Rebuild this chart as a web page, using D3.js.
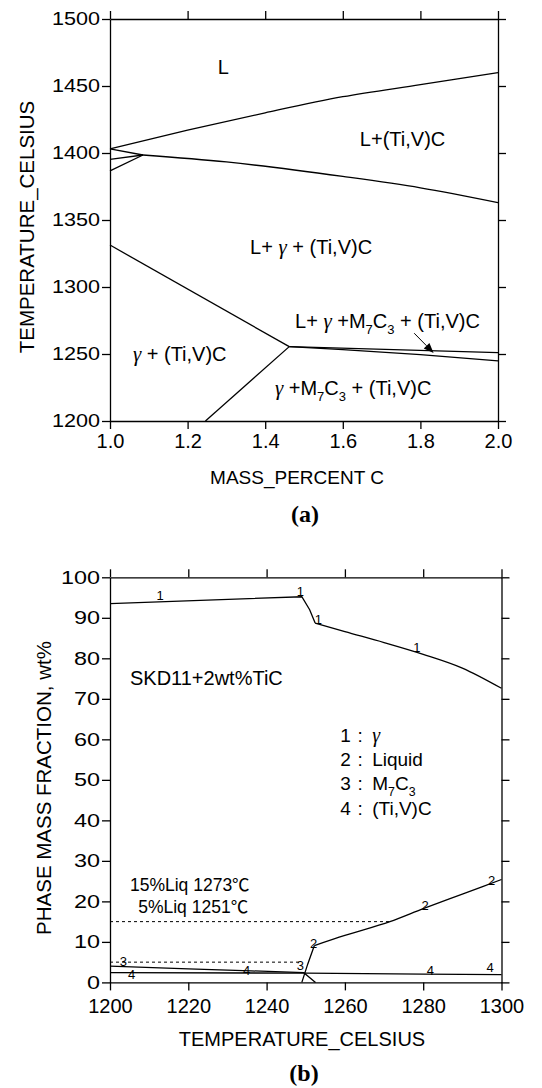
<!DOCTYPE html>
<html>
<head>
<meta charset="utf-8">
<script src="https://cdn.jsdelivr.net/npm/d3@7"></script>
<style>
  body { margin: 0; background: #fff; }
  text { font-family: "Liberation Sans", Arial, "Noto Sans CJK JP", sans-serif; fill: #000; white-space: pre; }
  .curve { fill: none; stroke: #000; stroke-width: 1.3; }
  .dash { fill: none; stroke: #000; stroke-width: 1; stroke-dasharray: 3,3; }
</style>
</head>
<body>
<svg id="fig" width="542" height="1088"></svg>
<script>
// ---------- (a) isopleth: mass % C vs temperature ----------
var cTicks = [1.0, 1.2, 1.4, 1.6, 1.8, 2.0],
    tTicksA = [1200, 1250, 1300, 1350, 1400, 1450, 1500];

// phase boundaries
var liquidusC = [1.0, 1.2, 1.4, 1.6, 1.8, 2.0],
    liquidusT = [1403, 1417, 1430, 1442, 1451, 1460];
var carbideC = [1.085, 1.3, 1.6, 1.8, 2.0],
    carbideT = [1398.5, 1393.3, 1382.5, 1374, 1363];
var nub1C = [1.0, 1.085], nub1T = [1403, 1398.5];
var nub2C = [1.0, 1.085], nub2T = [1395.3, 1398.5];
var nub3C = [1.0, 1.085], nub3T = [1386.6, 1398.5];
var solidusC = [1.0, 1.462], solidusT = [1331.3, 1255.5];
var m7StartC = [1.246, 1.462], m7StartT = [1200, 1255.5];
var upperEndC = [1.462, 2.0], upperEndT = [1255.5, 1251];
var lowerEndC = [1.462, 1.6, 1.8, 2.0], lowerEndT = [1255.5, 1253.3, 1249.5, 1244.8];

// ---------- (b) phase fractions vs temperature ----------
var tempTicks = [1200, 1220, 1240, 1260, 1280, 1300],
    fracTicks = [0, 10, 20, 30, 40, 50, 60, 70, 80, 90, 100];

var gammaT = [1200, 1249, 1251, 1252.4, 1260, 1270, 1280, 1290, 1300],
    gammaV = [93.5, 95.2, 92.0, 88.7, 86.6, 83.9, 81.0, 77.6, 72.6];
var liquidT = [1249, 1250.5, 1252.2, 1260, 1271.5, 1280, 1290, 1300],
    liquidV = [0, 4.5, 9.1, 11.6, 15.0, 18.2, 21.8, 25.4];
var m7c3T = [1200, 1220, 1236, 1249.5, 1252.5],
    m7c3V = [4.0, 3.35, 2.85, 2.4, 0];
var tivcT = [1200, 1250, 1280, 1300],
    tivcV = [2.4, 2.3, 2.05, 1.9];

// 15% and 5% liquid guides
var guideV = [15, 5],
    guideEndT = [1271.5, 1249];

var svg = d3.select("#fig");
svg.append("rect").attr("width", 542).attr("height", 1088).attr("fill", "#fff");

// draws the boxed frame with outward ticks on all four sides
function frame(x, y, xt, yt, xpad, ystretch) {
    var x0 = x.range()[0], x1 = x.range()[1],
        y0 = y.range()[0], y1 = y.range()[1];
    var axes = [];
    axes.push(svg.append("g").attr("transform", "translate(0," + y0 + ")")
        .call(d3.axisBottom(x).tickValues(xt).tickSize(8).tickSizeOuter(0).tickPadding(xpad)
            .tickFormat(function(d) { return xt[0] < 10 ? d.toFixed(1) : String(d); })));
    axes.push(svg.append("g").attr("transform", "translate(0," + y1 + ")")
        .call(d3.axisTop(x).tickValues(xt).tickSize(8).tickSizeOuter(0).tickFormat("")));
    var left = svg.append("g").attr("transform", "translate(" + x0 + ",0)")
        .call(d3.axisLeft(y).tickValues(yt).tickSize(8).tickSizeOuter(0).tickFormat(d3.format("d")));
    axes.push(left);
    axes.push(svg.append("g").attr("transform", "translate(" + x1 + ",0)")
        .call(d3.axisRight(y).tickValues(yt).tickSize(8).tickSizeOuter(0).tickFormat("")));

    axes.forEach(function(a) {
        a.attr("font-size", null).attr("font-family", null);
        a.selectAll("path, line").attr("stroke", "#000").attr("stroke-width", 1.3);
        a.selectAll("text").attr("fill", "#000").style("font-size", "20px");
    });
    // y labels in the original are a bit wider than normal
    left.selectAll("text").attr("x", null).style("font-size", "18px")
        .attr("transform", "translate(-10,0) scale(" + ystretch + ",1)");
}

function drawLine(x, y, xs, ys, cls, curve) {
    var pts = xs.map(function(d, i) { return [x(d), y(ys[i])]; });
    svg.append("path").attr("class", cls || "curve")
        .attr("d", d3.line().curve(curve || d3.curveLinear)(pts));
}

// rich label: parts are [string, kind] with kind "g" (gamma) or "sub"
function rich(px, py, parts, size) {
    var t = svg.append("text").attr("x", px).attr("y", py).style("font-size", size + "px");
    var shift = 0;
    parts.forEach(function(p) {
        var ts = t.append("tspan").text(p[0]);
        var want = p[1] === "sub" ? size * 0.3 : 0;
        if (want !== shift) { ts.attr("dy", want - shift); shift = want; }
        if (p[1] === "sub") ts.style("font-size", (size * 0.65) + "px");
        if (p[1] === "g") ts.style("font-family", "'Liberation Serif', 'Times New Roman', serif")
            .style("font-style", "italic").style("font-size", (size * 1.05) + "px");
    });
    return t;
}

// ===== panel (a) =====
var xa = d3.scaleLinear().domain([1.0, 2.0]).range([110, 498]),
    ya = d3.scaleLinear().domain([1200, 1500]).range([421, 19]);

frame(xa, ya, cTicks, tTicksA, 4.5, 1.2);

drawLine(xa, ya, liquidusC, liquidusT, null, d3.curveMonotoneX);
drawLine(xa, ya, carbideC, carbideT, null, d3.curveMonotoneX);
drawLine(xa, ya, lowerEndC, lowerEndT, null, d3.curveMonotoneX);
[[nub1C, nub1T], [nub2C, nub2T], [nub3C, nub3T],
 [solidusC, solidusT], [m7StartC, m7StartT], [upperEndC, upperEndT]]
    .forEach(function(l) { drawLine(xa, ya, l[0], l[1]); });

rich(xa(1.278), ya(1459), [["L"]], 20);
rich(xa(1.644), ya(1405), [["L+(Ti,V)C"]], 20);
rich(xa(1.361), ya(1324.4), [["L+ "], ["\u03b3", "g"], [" + (Ti,V)C"]], 20);
rich(xa(1.477), ya(1269.2), [["L+ "], ["\u03b3", "g"], [" +M"], ["7", "sub"], ["C"], ["3", "sub"], [" + (Ti,V)C"]], 20);
rich(xa(1.059), ya(1245), [["\u03b3", "g"], [" + (Ti,V)C"]], 20);
rich(xa(1.425), ya(1219.4), [["\u03b3", "g"], [" +M"], ["7", "sub"], ["C"], ["3", "sub"], [" + (Ti,V)C"]], 20);

// arrow pointing into the thin four-phase wedge
(function() {
    var sx = xa(1.784), sy = ya(1265.5), ex = xa(1.834), ey = ya(1250.8);
    var dx = ex - sx, dy = ey - sy, len = Math.sqrt(dx * dx + dy * dy);
    var ux = dx / len, uy = dy / len, hl = 10, hw = 4;
    var bx = ex - ux * hl, by = ey - uy * hl;
    svg.append("line").attr("x1", sx).attr("y1", sy).attr("x2", bx).attr("y2", by)
        .attr("stroke", "#000").attr("stroke-width", 1);
    svg.append("path").attr("fill", "#000")
        .attr("d", "M" + ex + "," + ey + "L" + (bx - uy * hw) + "," + (by + ux * hw) +
            "L" + (bx + uy * hw) + "," + (by - ux * hw) + "Z");
})();

svg.append("text").attr("transform", "translate(34,227) rotate(-90)")
    .attr("text-anchor", "middle").style("font-size", "20.5px").text("TEMPERATURE_CELSIUS");
svg.append("text").attr("x", 297).attr("y", 484).attr("text-anchor", "middle")
    .style("font-size", "19px").text("MASS_PERCENT C");
svg.append("text").attr("x", 305).attr("y", 522).attr("text-anchor", "middle")
    .style("font-family", "'Liberation Serif', 'Times New Roman', serif")
    .style("font-weight", "bold").style("font-size", "24px").text("(a)");

// ===== panel (b) =====
var xb = d3.scaleLinear().domain([1200, 1300]).range([110, 501.5]),
    yb = d3.scaleLinear().domain([0, 100]).range([982.4, 577.3]);

frame(xb, yb, tempTicks, fracTicks, 8, 1.3);

guideV.forEach(function(v, i) {
    drawLine(xb, yb, [1200, guideEndT[i]], [v, v], "dash");
});
// sharp kinks stay straight, the smooth tails get a monotone curve
drawLine(xb, yb, gammaT.slice(0, 4), gammaV.slice(0, 4));
drawLine(xb, yb, gammaT.slice(3), gammaV.slice(3), null, d3.curveMonotoneX);
drawLine(xb, yb, liquidT.slice(0, 3), liquidV.slice(0, 3));
drawLine(xb, yb, liquidT.slice(2), liquidV.slice(2), null, d3.curveMonotoneX);
drawLine(xb, yb, m7c3T, m7c3V);
drawLine(xb, yb, tivcT, tivcV);

// curve numbers
var tagT = [1212.8, 1248.6, 1253.2, 1278.4, 1252.0, 1280.5, 1297.5, 1203.4, 1248.6, 1205.5, 1234.9, 1281.8, 1297.1],
    tagV = [95.4, 96.6, 89.7, 82.6, 9.65, 18.9, 25.2, 5.1, 4.05, 1.83, 3.06, 3.06, 3.8],
    tagN = ["1", "1", "1", "1", "2", "2", "2", "3", "3", "4", "4", "4", "4"];
tagN.forEach(function(n, i) {
    svg.append("text").attr("x", xb(tagT[i])).attr("y", yb(tagV[i]) + 4.5)
        .attr("text-anchor", "middle").attr("fill", "#000").style("font-size", "13px").text(n);
});

rich(xb(1205.1), yb(73.3), [["SKD11+2wt%TiC"]], 20);
rich(xb(1205.1), yb(22.6), [["15%Liq 1273\u2103"]], 17.5);
rich(xb(1207.2), yb(17.1), [["5%Liq 1251\u2103"]], 17.5);

// legend of curve numbers
var legNum = ["1", "2", "3", "4"],
    legParts = [[["\u03b3", "g"]], [["Liquid"]], [["M"], ["7", "sub"], ["C"], ["3", "sub"]], [["(Ti,V)C"]]],
    legV = [59.4, 53.5, 47.5, 41.3];
legNum.forEach(function(n, i) {
    var lx = xb(1258.8), ly = yb(legV[i]);
    svg.append("text").attr("x", lx).attr("y", ly).style("font-size", "19px").text(n);
    svg.append("text").attr("x", lx + 20).attr("y", ly).attr("text-anchor", "middle").style("font-size", "19px").text(":");
    rich(lx + 32, ly, legParts[i], 19);
});

svg.append("text").attr("transform", "translate(51,788) rotate(-90)")
    .attr("text-anchor", "middle").style("font-size", "20.5px").text("PHASE MASS FRACTION, wt%");
svg.append("text").attr("x", 302).attr("y", 1046).attr("text-anchor", "middle")
    .style("font-size", "20px").text("TEMPERATURE_CELSIUS");
svg.append("text").attr("x", 304).attr("y", 1081).attr("text-anchor", "middle")
    .style("font-family", "'Liberation Serif', 'Times New Roman', serif")
    .style("font-weight", "bold").style("font-size", "24px").text("(b)");
</script>
</body>
</html>
